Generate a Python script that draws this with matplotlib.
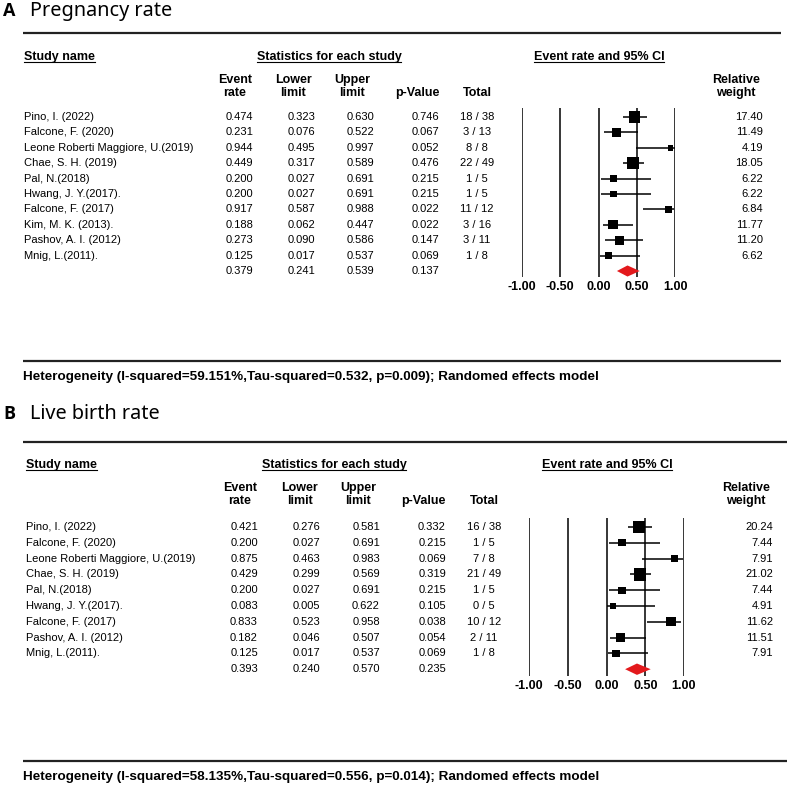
import matplotlib
matplotlib.use("Agg")
import matplotlib.pyplot as plt
from matplotlib import font_manager

# ---- data: pregnancy rate (panel A)
studies_a = ["Pino, I. (2022)", "Falcone, F. (2020)", "Leone Roberti Maggiore, U.(2019)",
             "Chae, S. H. (2019)", "Pal, N.(2018)", "Hwang, J. Y.(2017).", "Falcone, F. (2017)",
             "Kim, M. K. (2013).", "Pashov, A. I. (2012)", "Mnig, L.(2011)."]
rate_a = [0.474, 0.231, 0.944, 0.449, 0.200, 0.200, 0.917, 0.188, 0.273, 0.125]
lower_a = [0.323, 0.076, 0.495, 0.317, 0.027, 0.027, 0.587, 0.062, 0.090, 0.017]
upper_a = [0.630, 0.522, 0.997, 0.589, 0.691, 0.691, 0.988, 0.447, 0.586, 0.537]
pval_a = ["0.746", "0.067", "0.052", "0.476", "0.215", "0.215", "0.022", "0.022", "0.147", "0.069"]
total_a = ["18 / 38", "3 / 13", "8 / 8", "22 / 49", "1 / 5", "1 / 5", "11 / 12", "3 / 16", "3 / 11", "1 / 8"]
weight_a = [17.40, 11.49, 4.19, 18.05, 6.22, 6.22, 6.84, 11.77, 11.20, 6.62]
pooled_a = [0.379, 0.241, 0.539]
pooled_p_a = "0.137"
het_a = "Heterogeneity (I-squared=59.151%,Tau-squared=0.532, p=0.009); Randomed effects model"

# ---- data: live birth rate (panel B)
studies_b = ["Pino, I. (2022)", "Falcone, F. (2020)", "Leone Roberti Maggiore, U.(2019)",
             "Chae, S. H. (2019)", "Pal, N.(2018)", "Hwang, J. Y.(2017).", "Falcone, F. (2017)",
             "Pashov, A. I. (2012)", "Mnig, L.(2011)."]
rate_b = [0.421, 0.200, 0.875, 0.429, 0.200, 0.083, 0.833, 0.182, 0.125]
lower_b = [0.276, 0.027, 0.463, 0.299, 0.027, 0.005, 0.523, 0.046, 0.017]
upper_b = [0.581, 0.691, 0.983, 0.569, 0.691, 0.622, 0.958, 0.507, 0.537]
pval_b = ["0.332", "0.215", "0.069", "0.319", "0.215", "0.105", "0.038", "0.054", "0.069"]
total_b = ["16 / 38", "1 / 5", "7 / 8", "21 / 49", "1 / 5", "0 / 5", "10 / 12", "2 / 11", "1 / 8"]
weight_b = [20.24, 7.44, 7.91, 21.02, 7.44, 4.91, 11.62, 11.51, 7.91]
pooled_b = [0.393, 0.240, 0.570]
pooled_p_b = "0.235"
het_b = "Heterogeneity (I-squared=58.135%,Tau-squared=0.556, p=0.014); Randomed effects model"

ticks = [-1.0, -0.5, 0.0, 0.5, 1.0]
tick_labels = ["-1.00", "-0.50", "0.00", "0.50", "1.00"]

W, H = 793, 796
fig = plt.figure(figsize=(W / 100, H / 100), dpi=100)
bg = fig.add_axes([0, 0, 1, 1])
bg.set_xlim(0, W)
bg.set_ylim(H, 0)
bg.axis("off")

ARIAL = "Liberation Sans"
names = {f.name for f in font_manager.fontManager.ttflist}
if "Liberation Sans Narrow" in names:
    het_font, het_size = "Liberation Sans Narrow", 10.5
else:
    het_font, het_size = ARIAL, 9.7

underline_queue = []


def txt(x, y, s, ha="left", bold=False, size=8, under=False):
    t = bg.text(x, y, s, ha=ha, va="center", family=ARIAL, fontsize=size,
                fontweight="bold" if bold else "normal")
    if under:
        underline_queue.append((t, y + 5))
    return t


def panel(letter, title, title_y, rule_y, hdr_y, cols, y0, dy, fx, studies, rate, lo, up,
          pv, tot, wt, pooled, pooled_p, het, het_y, rule_right):
    bg.text(3, title_y, letter, family="Open Sans", fontweight="bold", fontsize=13, va="baseline")
    bg.text(30, title_y, title, family="Noto Sans", fontsize=14.3, va="baseline")
    bg.plot([23, rule_right], [rule_y, rule_y], color="#222222", lw=1.6, solid_capstyle="butt")

    txt(cols["name"], hdr_y, "Study name", bold=True, size=9, under=True)
    txt(cols["stats"], hdr_y, "Statistics for each study", ha="center", bold=True, size=9, under=True)
    txt(cols["ci"], hdr_y, "Event rate and 95% CI", ha="center", bold=True, size=9, under=True)
    h1, h2 = hdr_y + 23, hdr_y + 36
    txt(cols["ev_h"], h1, "Event", ha="center", bold=True, size=9)
    txt(cols["ev_h"], h2, "rate", ha="center", bold=True, size=9)
    txt(cols["lo_h"], h1, "Lower", ha="center", bold=True, size=9)
    txt(cols["lo_h"], h2, "limit", ha="center", bold=True, size=9)
    txt(cols["up_h"], h1, "Upper", ha="center", bold=True, size=9)
    txt(cols["up_h"], h2, "limit", ha="center", bold=True, size=9)
    txt(cols["p_h"], h2, "p-Value", ha="center", bold=True, size=9)
    txt(cols["tot"], h2, "Total", ha="center", bold=True, size=9)
    txt(cols["w_h"], h1, "Relative", ha="center", bold=True, size=9)
    txt(cols["w_h"], h2, "weight", ha="center", bold=True, size=9)

    n = len(studies)
    for i in range(n):
        y = y0 + i * dy
        txt(cols["name"], y, studies[i])
        txt(cols["ev"], y, "%.3f" % rate[i], ha="right")
        txt(cols["lo"], y, "%.3f" % lo[i], ha="right")
        txt(cols["up"], y, "%.3f" % up[i], ha="right")
        txt(cols["p"], y, pv[i], ha="right")
        txt(cols["tot"], y, tot[i], ha="center")
        txt(cols["w"], y, "%.2f" % wt[i], ha="right")
    y = y0 + n * dy
    txt(cols["ev"], y, "%.3f" % pooled[0], ha="right")
    txt(cols["lo"], y, "%.3f" % pooled[1], ha="right")
    txt(cols["up"], y, "%.3f" % pooled[2], ha="right")
    txt(cols["p"], y, pooled_p, ha="right")

    # forest plot axes: x in event-rate units, y in rows
    top_px = y0 - dy
    bot_px = y0 + (n + 0.5) * dy
    ax = fig.add_axes([fx[0] / W, 1 - bot_px / H, (fx[1] - fx[0]) / W, (bot_px - top_px) / H])
    ax.set_xlim(-1, 1)
    ax.set_ylim(n + 0.5, -1)
    for s in ax.spines.values():
        s.set_visible(False)
    ax.patch.set_alpha(0)
    ax.set_yticks([])
    ax.set_xticks(ticks)
    ax.set_xticklabels(tick_labels, family=ARIAL, fontweight="bold", fontsize=9)
    ax.tick_params(axis="x", length=0, pad=2)
    ax.vlines(ticks, -0.58, n + 0.4, color="black", lw=1.1)
    rows = list(range(n))
    ax.hlines(rows, lo, up, color="black", lw=1.1)
    ax.scatter(rate, rows, s=[3.8 * w for w in wt], marker="s", color="black", lw=0, zorder=3)
    ax.fill([pooled[1], pooled[0], pooled[2], pooled[0]], [n, n - 0.36, n, n + 0.36],
            color="#e3191c", lw=0, zorder=3)

    bg.plot([23, rule_right], [het_y - 16, het_y - 16], color="#222222", lw=1.6, solid_capstyle="butt")
    bg.text(23, het_y, het, family=het_font, fontsize=het_size, fontweight="bold", va="center")


cols_a = dict(name=24, stats=329, ci=599, ev_h=235, lo_h=293, up_h=352, p_h=417, w_h=736,
              ev=253, lo=315, up=374, p=439, tot=477, w=763)
panel("A", "Pregnancy rate", 16, 33, 57, cols_a, 117, 15.4, (522, 675),
      studies_a, rate_a, lower_a, upper_a, pval_a, total_a, weight_a, pooled_a, pooled_p_a,
      het_a, 377, 781)

cols_b = dict(name=26, stats=334, ci=607, ev_h=240, lo_h=300, up_h=358, p_h=423, w_h=746,
              ev=258, lo=320, up=380, p=446, tot=484, w=773)
panel("B", "Live birth rate", 419, 442, 465, cols_b, 527, 15.8, (529, 684),
      studies_b, rate_b, lower_b, upper_b, pval_b, total_b, weight_b, pooled_b, pooled_p_b,
      het_b, 777, 787)

# underline the section headers using their drawn extents
renderer = fig.canvas.get_renderer()
inv = bg.transData.inverted()
for t, uy in underline_queue:
    bb = t.get_window_extent(renderer)
    x0 = inv.transform((bb.x0, bb.y0))[0]
    x1 = inv.transform((bb.x1, bb.y0))[0]
    bg.plot([x0, x1], [uy, uy], color="black", lw=0.8)

fig.savefig("out.png", dpi=100)
